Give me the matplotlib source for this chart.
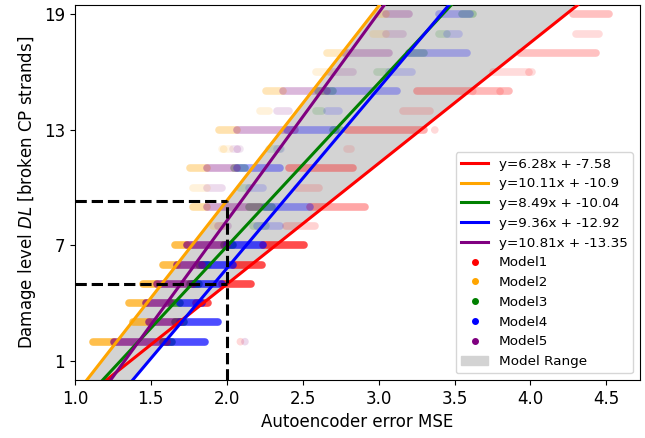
import numpy as np
import matplotlib
matplotlib.use("Agg")
import matplotlib.pyplot as plt
from matplotlib.lines import Line2D
from matplotlib.patches import Patch
from matplotlib.colors import to_rgba

# fitted lines y = a*x + b
slopes = [6.28, 10.11, 8.49, 9.36, 10.81]
intercepts = [-7.58, -10.9, -10.04, -12.92, -13.35]
models = ["Model1", "Model2", "Model3", "Model4", "Model5"]
colors = ["red", "orange", "green", "blue", "purple"]

# relative number of samples per damage level (read from point density)
levels = [2, 3, 4, 5, 6, 7, 8, 9, 10, 11, 12, 13, 14, 15, 16, 17, 18, 19]
weight = [1.0, 1.0, 1.0, 1.0, 1.0, 1.0, 0.25, 0.5, 0.2, 0.5, 0.15, 0.45, 0.2, 0.4, 0.2, 0.35, 0.2, 0.35]

# MSE range of each model per damage level (dense point clouds)
m1_lvl = [4, 5, 6, 7, 8, 9, 10, 11, 12, 13, 14, 15, 16, 17, 18, 19]
m1_lo = [1.80, 1.97, 2.04, 2.24, 2.39, 2.55, 2.46, 2.41, 2.79, 2.79, 3.16, 3.25, 3.75, 3.93, 4.30, 4.28]
m1_hi = [1.88, 2.16, 2.23, 2.51, 2.58, 2.91, 2.61, 2.83, 2.82, 3.30, 3.34, 3.86, 4.01, 4.43, 4.45, 4.52]

m2_lvl = [2, 3, 4, 5, 6, 7, 8, 9, 10, 11, 12, 13, 14, 15, 16, 17, 18, 19]
m2_lo = [1.12, 1.38, 1.36, 1.45, 1.58, 1.66, 1.91, 1.78, 1.78, 1.76, 1.97, 1.95, 2.22, 2.26, 2.59, 2.66, 2.96, 2.99]
m2_hi = [1.26, 1.49, 1.47, 1.54, 1.67, 1.74, 1.97, 1.87, 1.87, 1.87, 2.02, 2.07, 2.28, 2.37, 2.68, 2.78, 3.05, 3.05]

m3_lvl = [2, 3, 4, 5, 6, 7, 8, 9, 10, 11, 12, 13, 14, 15, 16, 17, 18, 19]
m3_lo = [1.58, 1.66, 1.63, 1.76, 1.82, 1.98, 2.17, 2.15, 2.09, 2.05, 2.28, 2.70, 2.59, 2.60, 2.99, 3.20, 3.40, 3.55]
m3_hi = [1.64, 1.72, 1.69, 1.82, 1.88, 2.04, 2.26, 2.30, 2.15, 2.12, 2.35, 2.75, 2.63, 2.70, 3.07, 3.30, 3.45, 3.62]

m4_lvl = [2, 3, 4, 5, 6, 7, 8, 9, 10, 11, 12, 13, 14, 15, 16, 17, 18, 19]
m4_lo = [1.61, 1.69, 1.69, 1.78, 1.84, 2.00, 2.20, 2.25, 2.15, 2.07, 2.33, 2.40, 2.66, 2.66, 3.07, 3.20, 3.45, 3.40]
m4_hi = [1.86, 1.94, 1.84, 1.97, 2.04, 2.24, 2.35, 2.55, 2.24, 2.35, 2.36, 2.72, 2.74, 3.12, 3.22, 3.58, 3.53, 3.60]

m5_lvl = [2, 3, 4, 5, 6, 7, 8, 9, 10, 11, 12, 13, 14, 15, 16, 17, 18, 19]
m5_lo = [1.26, 1.49, 1.47, 1.54, 1.67, 1.74, 1.94, 1.87, 1.87, 1.87, 2.04, 2.07, 2.33, 2.37, 2.68, 2.78, 3.05, 3.05]
m5_hi = [1.61, 1.69, 1.63, 1.78, 1.84, 2.00, 2.01, 2.22, 1.97, 2.07, 2.09, 2.45, 2.41, 2.66, 2.83, 3.07, 3.16, 3.20]

# isolated outlier points (level, MSE)
m1_out_lvl = [2, 13, 15, 15, 16]
m1_out_x = [2.09, 3.37, 3.62, 3.80, 3.99]
m5_out_lvl = [2, 12]
m5_out_x = [2.12, 2.07]
m2_out_lvl = [12]
m2_out_x = [1.98]

x_ref = 2.0

clouds = [(m1_lvl, m1_lo, m1_hi), (m2_lvl, m2_lo, m2_hi), (m3_lvl, m3_lo, m3_hi),
          (m4_lvl, m4_lo, m4_hi), (m5_lvl, m5_lo, m5_hi)]
outliers = [(m1_out_lvl, m1_out_x, "red"), (m5_out_lvl, m5_out_x, "purple"),
            (m2_out_lvl, m2_out_x, "orange")]

fig = plt.figure(figsize=(6.45, 4.38), dpi=100)
ax = fig.add_subplot(111)
fig.subplots_adjust(left=0.116, right=0.992, bottom=0.132, top=0.989)

xs = np.linspace(0.9, 4.8, 400)
fits = np.array([a * xs + b for a, b in zip(slopes, intercepts)])

# model range
ax.fill_between(xs, fits.min(axis=0), fits.max(axis=0), color="lightgray", zorder=1)

# point clouds
w_of = dict(zip(levels, weight))
for (lv, lo, hi), c in zip(clouds, colors):
    cols = [to_rgba(c, 0.7 * w_of[l]) for l in lv]
    lc = ax.hlines(lv, lo, hi, colors=cols, linewidth=5.5, zorder=2)
    lc.set_capstyle("round")
for lv, xv, c in outliers:
    ax.scatter(xv, lv, s=30, color=c, alpha=0.15, edgecolors="none", zorder=2)

# fitted lines
line_handles = []
for a, b, c in zip(slopes, intercepts, colors):
    h, = ax.plot(xs, a * xs + b, color=c, linewidth=2.2, zorder=3,
                 label="y=%sx + %s" % (a, b))
    line_handles.append(h)

# range at x = 2
y_hi = slopes[1] * x_ref + intercepts[1]
y_lo = slopes[0] * x_ref + intercepts[0]
ax.plot([1.0, x_ref], [y_hi, y_hi], "k--", linewidth=2.2, zorder=4)
ax.plot([1.0, x_ref], [y_lo, y_lo], "k--", linewidth=2.2, zorder=4)
ax.plot([x_ref, x_ref], [0, y_hi], "k--", linewidth=2.2, zorder=4)

ax.set_xlim(1.0, 4.72)
ax.set_ylim(0, 19.5)
ax.set_xticks([1.0, 1.5, 2.0, 2.5, 3.0, 3.5, 4.0, 4.5])
ax.set_yticks([1, 7, 13, 19])
ax.tick_params(labelsize=12)
ax.set_xlabel("Autoencoder error MSE", fontsize=12)
ax.set_ylabel("Damage level $DL$ [broken CP strands]", fontsize=12)

handles = line_handles[:]
for m, c in zip(models, colors):
    handles.append(Line2D([], [], marker="o", linestyle="", color=c, markersize=4, label=m))
handles.append(Patch(color="lightgray", label="Model Range"))
ax.legend(handles=handles, loc="lower right", fontsize=9.7)

fig.savefig("out.png", dpi=100)
